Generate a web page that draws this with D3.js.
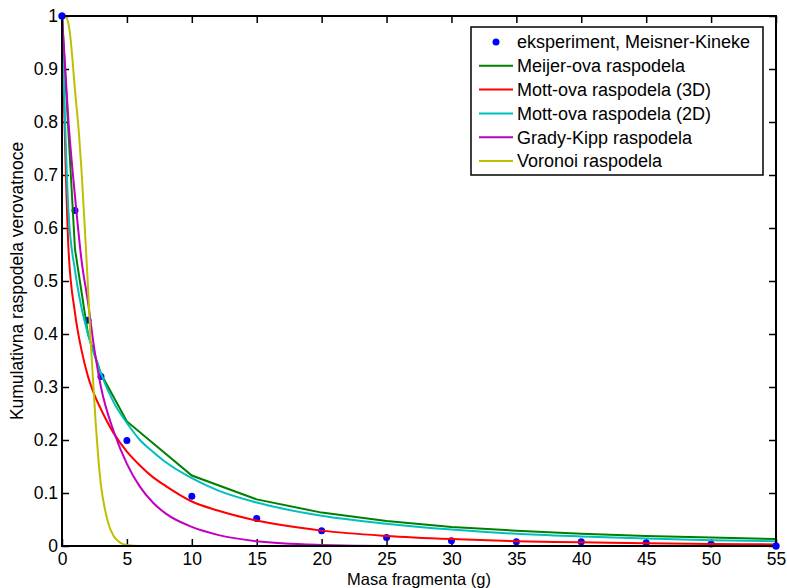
<!DOCTYPE html>
<html>
<head>
<meta charset="utf-8">
<script src="https://cdn.jsdelivr.net/npm/d3@7"></script>
<style>
	body { margin: 0; background: #fff; }
	svg { font-family: "Liberation Sans", Arial, sans-serif; }
	.axis text { font-size: 17.5px; fill: #000; }
	.axis line { stroke: #000; stroke-width: 1.5; }
	.legend text { font-size: 18px; }
</style>
</head>
<body>
<svg id="chart" width="787" height="588"></svg>
<script>
// eksperiment, Meisner-Kineke
const expX = [0, 1, 2, 3, 5, 10, 15, 20, 25, 30, 35, 40, 45, 50, 55]
const expY = [1, 0.633, 0.426, 0.32, 0.199, 0.094, 0.052, 0.029, 0.016, 0.010, 0.008, 0.008, 0.006, 0.004, 0]

// Meijer-ova raspodela
const meijerX = [0, 1, 2, 3, 5, 10, 15, 20, 25, 30, 35, 40, 45, 50, 55]
const meijerY = [1, 0.56, 0.40, 0.325, 0.235, 0.133, 0.088, 0.063, 0.047, 0.036, 0.029, 0.023, 0.019, 0.016, 0.013]

// Mott-ova raspodela (3D)
const mott3X = [0, 0.5, 1, 1.5, 2, 2.5, 3, 4, 5, 6, 7, 8, 10, 12, 15, 20, 25, 30, 35, 40, 45, 50, 55]
const mott3Y = [1, 0.56, 0.44, 0.37, 0.32, 0.285, 0.258, 0.212, 0.178, 0.152, 0.13, 0.113, 0.084, 0.067, 0.048, 0.029, 0.019, 0.013, 0.009, 0.007, 0.005, 0.004, 0.003]

// Mott-ova raspodela (2D)
const mott2X = [0, 0.5, 1, 1.5, 2, 2.5, 3, 4, 5, 6, 7, 8, 10, 12, 15, 20, 25, 30, 35, 40, 45, 50, 55]
const mott2Y = [1, 0.63, 0.52, 0.45, 0.40, 0.36, 0.325, 0.27, 0.232, 0.2, 0.178, 0.158, 0.128, 0.105, 0.082, 0.057, 0.042, 0.031, 0.023, 0.018, 0.014, 0.011, 0.009]

// Grady-Kipp raspodela
const gradyX = [0, 0.5, 1, 1.5, 2, 2.5, 3, 4, 5, 6, 7, 8, 10, 12, 15, 20, 25, 55]
const gradyY = [1, 0.8, 0.66, 0.54, 0.46, 0.37, 0.30, 0.215, 0.155, 0.112, 0.082, 0.061, 0.036, 0.021, 0.009, 0.002, 0, 0]

// Voronoi raspodela
const voronoiX = [0, 0.3, 0.6, 0.8, 1, 1.3, 1.5, 1.8, 2, 2.2, 2.4, 2.6, 2.8, 3, 3.3, 3.6, 4, 4.5, 5, 6, 55]
const voronoiY = [1, 0.998, 0.97, 0.92, 0.86, 0.78, 0.71, 0.58, 0.49, 0.39, 0.31, 0.23, 0.165, 0.115, 0.07, 0.04, 0.018, 0.006, 0.002, 0, 0]

const xTicks = [0, 5, 10, 15, 20, 25, 30, 35, 40, 45, 50, 55]
const yTicks = [0, 0.1, 0.2, 0.3, 0.4, 0.5, 0.6, 0.7, 0.8, 0.9, 1]

const legendLabels = ['eksperiment, Meisner-Kineke', 'Meijer-ova raspodela', 'Mott-ova raspodela (3D)',
	'Mott-ova raspodela (2D)', 'Grady-Kipp raspodela', 'Voronoi raspodela']

// Meijer is drawn as a polyline through the measured masses, the fits as smooth curves
const series = [
	{ xs: meijerX, ys: meijerY, color: '#008000', curve: d3.curveLinear },
	{ xs: mott3X, ys: mott3Y, color: '#ff0000', curve: d3.curveMonotoneX },
	{ xs: mott2X, ys: mott2Y, color: '#00bfbf', curve: d3.curveMonotoneX },
	{ xs: gradyX, ys: gradyY, color: '#bf00bf', curve: d3.curveMonotoneX },
	{ xs: voronoiX, ys: voronoiY, color: '#bfbf00', curve: d3.curveMonotoneX }
]

const svg = d3.select('#chart')
const margin = { left: 62, right: 776, top: 16, bottom: 546 }

const x = d3.scaleLinear().domain([0, 55]).range([margin.left, margin.right])
const y = d3.scaleLinear().domain([0, 1]).range([margin.bottom, margin.top])

const TICK = 7

// axes with inward ticks
svg.append('g')
	.attr('class', 'axis')
	.attr('transform', `translate(0,${margin.bottom})`)
	.call(d3.axisBottom(x).tickValues(xTicks).tickSizeInner(-TICK).tickSizeOuter(0).tickPadding(7).tickFormat(d => d))
	.call(g => g.select('.domain').remove())

svg.append('g')
	.attr('class', 'axis')
	.attr('transform', `translate(${margin.left},0)`)
	.call(d3.axisLeft(y).tickValues(yTicks).tickSizeInner(-TICK).tickSizeOuter(0).tickPadding(4).tickFormat(d => d))
	.call(g => g.select('.domain').remove())

svg.append('g')
	.attr('class', 'axis')
	.attr('transform', `translate(0,${margin.top})`)
	.call(d3.axisTop(x).tickValues(xTicks).tickSizeInner(-TICK).tickSizeOuter(0).tickFormat(''))
	.call(g => g.select('.domain').remove())

svg.append('g')
	.attr('class', 'axis')
	.attr('transform', `translate(${margin.right},0)`)
	.call(d3.axisRight(y).tickValues(yTicks).tickSizeInner(-TICK).tickSizeOuter(0).tickFormat(''))
	.call(g => g.select('.domain').remove())

const plot = svg.append('g')

// measured points go underneath the fitted curves
plot.selectAll('circle')
	.data(expX.map((v, i) => [v, expY[i]]))
	.enter().append('circle')
	.attr('cx', d => x(d[0]))
	.attr('cy', d => y(d[1]))
	.attr('r', 3.5)
	.attr('fill', '#0000ff')

plot.selectAll('path.series')
	.data(series)
	.enter().append('path')
	.attr('class', 'series')
	.attr('d', s => d3.line()
		.x(d => x(d[0]))
		.y(d => y(d[1]))
		.curve(s.curve)(s.xs.map((v, i) => [v, s.ys[i]])))
	.attr('fill', 'none')
	.attr('stroke', s => s.color)
	.attr('stroke-width', 2)

// frame
svg.append('rect')
	.attr('x', margin.left)
	.attr('y', margin.top)
	.attr('width', margin.right - margin.left)
	.attr('height', margin.bottom - margin.top)
	.attr('fill', 'none')
	.attr('stroke', '#000')
	.attr('stroke-width', 2)

// end points sit on the frame
svg.selectAll('circle.edge')
	.data([[expX[0], expY[0]], [expX[expX.length - 1], expY[expY.length - 1]]])
	.enter().append('circle')
	.attr('class', 'edge')
	.attr('cx', d => x(d[0]))
	.attr('cy', d => y(d[1]))
	.attr('r', 3.5)
	.attr('fill', '#0000ff')

// axis titles
svg.append('text')
	.attr('x', (margin.left + margin.right) / 2)
	.attr('y', 585)
	.attr('text-anchor', 'middle')
	.style('font-size', '16.5px')
	.text('Masa fragmenta (g)')

svg.append('text')
	.attr('transform', `translate(23,${(margin.top + margin.bottom) / 2}) rotate(-90)`)
	.attr('text-anchor', 'middle')
	.style('font-size', '17.5px')
	.text('Kumulativna raspodela verovatnoce')

// legend
const legend = svg.append('g').attr('class', 'legend')
legend.append('rect')
	.attr('x', 471)
	.attr('y', 27)
	.attr('width', 292)
	.attr('height', 148)
	.attr('fill', '#fff')
	.attr('stroke', '#000')
	.attr('stroke-width', 1.5)

const rowY = i => 42 + i * 23.8

legend.append('circle')
	.attr('cx', 496)
	.attr('cy', rowY(0))
	.attr('r', 3.5)
	.attr('fill', '#0000ff')

legend.selectAll('line')
	.data(series)
	.enter().append('line')
	.attr('x1', 479)
	.attr('x2', 513)
	.attr('y1', (d, i) => rowY(i + 1))
	.attr('y2', (d, i) => rowY(i + 1))
	.attr('stroke', d => d.color)
	.attr('stroke-width', 2)

legend.selectAll('text')
	.data(legendLabels)
	.enter().append('text')
	.attr('x', 517)
	.attr('y', (d, i) => rowY(i))
	.attr('dy', '0.35em')
	.text(d => d)
</script>
</body>
</html>
